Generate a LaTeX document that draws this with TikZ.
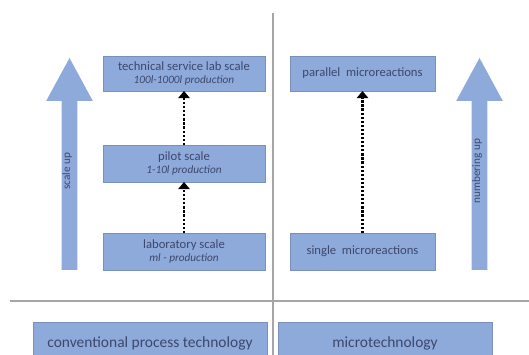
\documentclass[tikz,border=0pt]{standalone}
\usepackage{fontspec}
\setmainfont{Carlito}
\usetikzlibrary{arrows.meta,shapes.arrows}
\definecolor{boxblue}{RGB}{142,170,219}
\definecolor{txtblue}{RGB}{60,72,108}
\begin{document}
\begin{tikzpicture}[inner sep=0pt,outer sep=0pt,
stagebox/.style={draw=boxblue!85!black,thin,fill=boxblue,rectangle,minimum height=0.925cm,text=txtblue,align=center,font=\small},
fieldbox/.style={stagebox,minimum height=1.05cm,font=\fontsize{11}{13}\selectfont},
trend/.style={single arrow,fill=boxblue,rotate=90,anchor=tail,minimum height=5.3cm,minimum width=1.15cm,
  single arrow head extend=0.3875cm,single arrow tip angle=57,text height=0.2cm,text depth=0.175cm,
  text=txtblue,font=\footnotesize},
upstep/.style={line width=1.8pt,dash pattern=on 1.6pt off 1.3pt,-{Triangle[length=5pt,width=8pt]}}]
\clip (0,0) rectangle (13.225,8.875);
\draw[gray!70,thick] (6.825,0) -- (6.825,8.55);
\draw[gray!70,thick] (0.25,1.35) -- (13.225,1.35);
\draw (4.6,2.5875) node[stagebox,minimum width=4.05cm] (lab) {laboratory scale\\[-2pt]{\footnotesize\itshape ml - production}};
\draw (4.6,4.7875) node[stagebox,minimum width=4.05cm] (pilot) {pilot scale\\[-2pt]{\footnotesize\itshape 1-10l production}};
\draw (4.6,7.0375) node[stagebox,minimum width=4.05cm,minimum height=0.875cm] (tech) {technical service lab scale\\[-2pt]{\footnotesize\itshape 100l-1000l production}};
\draw (9.0625,2.5875) node[stagebox,minimum width=3.625cm] (single) {single\ \ microreactions};
\draw (9.0625,7.0375) node[stagebox,minimum width=3.625cm,minimum height=0.875cm] (parallel) {parallel\ \ microreactions};
\draw[upstep] (lab) -- (pilot);
\draw[upstep] (pilot) -- (tech);
\draw[upstep] (single) -- (parallel);
\draw (1.7375,2.125) node[trend] (scaleup) {scale up};
\draw (11.9875,2.125) node[trend] (numup) {numbering up};
\draw (3.75,0.3) node[fieldbox,minimum width=5.85cm] (conv) {conventional process technology};
\draw (9.625,0.3) node[fieldbox,minimum width=5.35cm] (micro) {microtechnology};
\end{tikzpicture}
\end{document}
